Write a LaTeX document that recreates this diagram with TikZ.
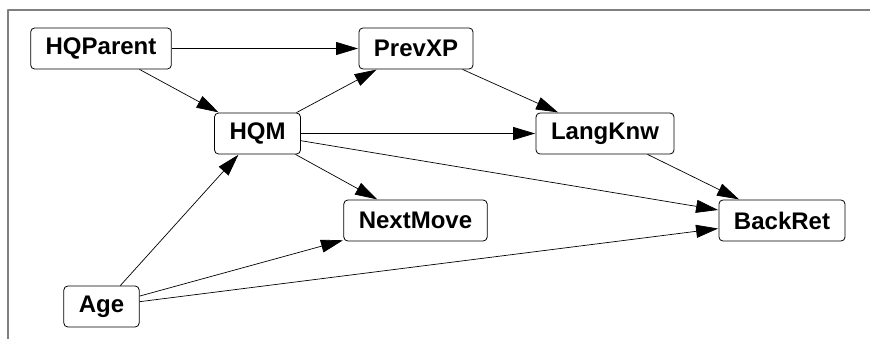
\documentclass[tikz,border=0pt]{standalone}
\usepackage{fontspec}
\setmainfont{Liberation Sans}
\usetikzlibrary{arrows.meta}
\begin{document}
\begin{tikzpicture}[x=1pt, y=-1pt, font=\fontsize{24}{26}\selectfont\bfseries, line join=round,
	>={Triangle[length=22pt, width=13pt]},
	var/.style={draw, rounded corners=4pt, line width=.8pt, minimum height=41pt, inner xsep=15pt, inner ysep=0pt},
	edge/.style={->, line width=.7pt, shorten >=.5pt}]
	\useasboundingbox (0,0) rectangle (870,339);
	% frame
	\draw[gray, line width=1.6pt] (8,339)--(8,10)--(870,10);
	% variables
	\node[var] (hqparent) at (101,48.5) {HQParent};
	\node[var] (prevxp) at (416,48.5) {PrevXP};
	\node[var] (hqm) at (257.5,133.5) {HQM};
	\node[var] (langknw) at (605,133.5) {LangKnw};
	\node[var] (nextmove) at (415.5,220.5) {NextMove};
	\node[var] (backret) at (782,220.5) {BackRet};
	\node[var] (age) at (101.5,306.5) {Age};
	% dependencies
	\foreach \s/\t in {hqparent/prevxp, hqparent/hqm, hqm/prevxp, prevxp/langknw, hqm/langknw,
		hqm/backret, hqm/nextmove, langknw/backret, age/hqm, age/nextmove, age/backret}
		\draw[edge] (\s)--(\t);
\end{tikzpicture}
\end{document}
